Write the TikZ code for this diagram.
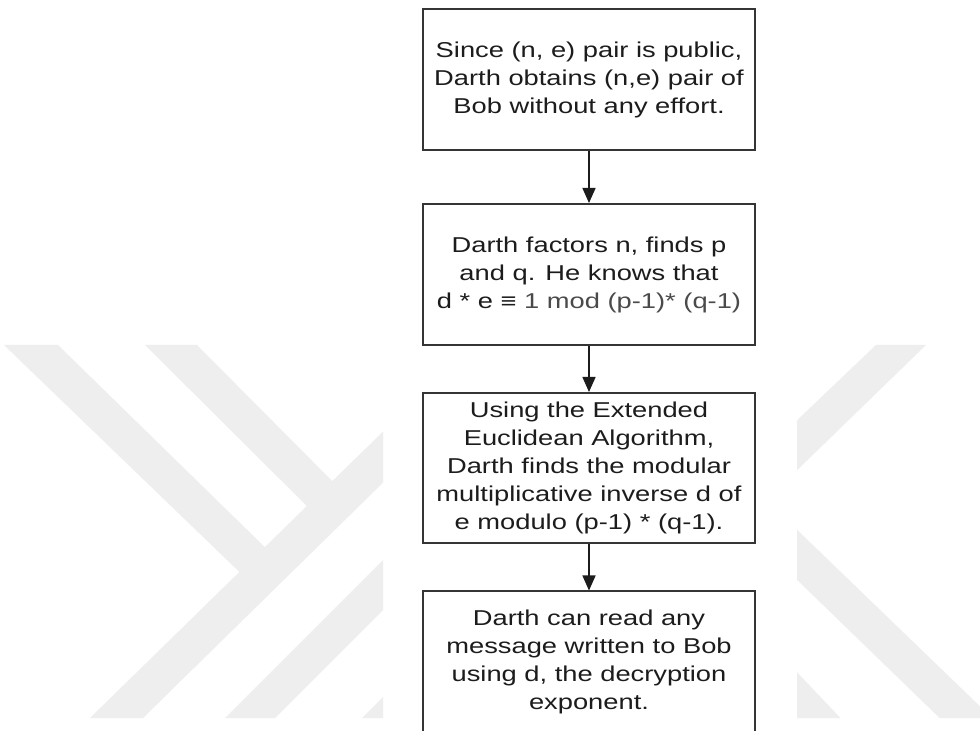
\documentclass[tikz,border=0pt]{standalone}
\usepackage{fontspec}
\setmainfont{Liberation Sans}[FakeStretch=1.27]
\usetikzlibrary{arrows.meta,positioning}
\definecolor{ink}{HTML}{1C1C1C}
\definecolor{inksoft}{HTML}{4A4A4A}
\definecolor{boxline}{HTML}{353535}
\definecolor{wmgrey}{HTML}{EEEEEE}

\begin{document}
\begin{tikzpicture}[x=0.5pt,y=-0.5pt,
  box/.style={draw=boxline,fill=white,line width=1pt,align=center,minimum width=166pt,minimum height=70.5pt,inner sep=0pt,text=ink,font=\fontsize{10.75}{14}\selectfont},
  arr/.style={-{Triangle[length=7.5pt,width=6.5pt]},line width=0.75pt,color=ink}]
  \useasboundingbox (0,0) rectangle (980,731);
  \clip (0,0) rectangle (980,731);
  \fill[white] (0,0) rectangle (980,731);
  % watermark
  \begin{scope}
    \clip (0,345) rectangle (383,718) (797,345) rectangle (980,718);
    \fill[wmgrey] (4,345) -- (58,345) -- (280,562) -- (255,587) -- cycle;
    \fill[wmgrey] (145,345) -- (197,345) -- (350,499) -- (325,524) -- cycle;
    \fill[wmgrey] (90,718) -- (143,718) -- (400,466) -- (400,415) -- cycle;
    \fill[wmgrey] (225,718) -- (275,718) -- (400,593) -- (400,543) -- cycle;
    \fill[wmgrey] (362,718) -- (400,718) -- (400,680) -- cycle;
    \fill[wmgrey] (790,427) -- (876,345) -- (926,345) -- (790,477) -- cycle;
    \fill[wmgrey] (790,523) -- (990,716) -- (990,730) -- (952,730) -- (790,573) -- cycle;
    \fill[wmgrey] (790,665) -- (850,728) -- (790,728) -- cycle;
  \end{scope}
  % steps
  \node[box] (pub) at (589,79.5) {Since (n, e) pair is public,\\ Darth obtains (n,e) pair of\\ Bob without any effort.};
  \node[box] (fac) at (589,274.5) {Darth factors n, finds p\\ and q. He knows that\\ d * e ≡ {\color{inksoft}1 mod (p-1)* (q-1)}};
  \node[box,minimum height=75pt] (inv) at (589,468) {Using the Extended\\ Euclidean Algorithm,\\ Darth finds the modular\\ multiplicative inverse d of\\ e modulo (p-1) * (q-1).};
  \node[box] (read) at (589,662) {Darth can read any\\ message written to Bob\\ using d, the decryption\\ exponent.};
  \draw[arr] (pub) -- (fac);
  \draw[arr] (fac) -- (inv);
  \draw[arr] (inv) -- (read);
\end{tikzpicture}
\end{document}
